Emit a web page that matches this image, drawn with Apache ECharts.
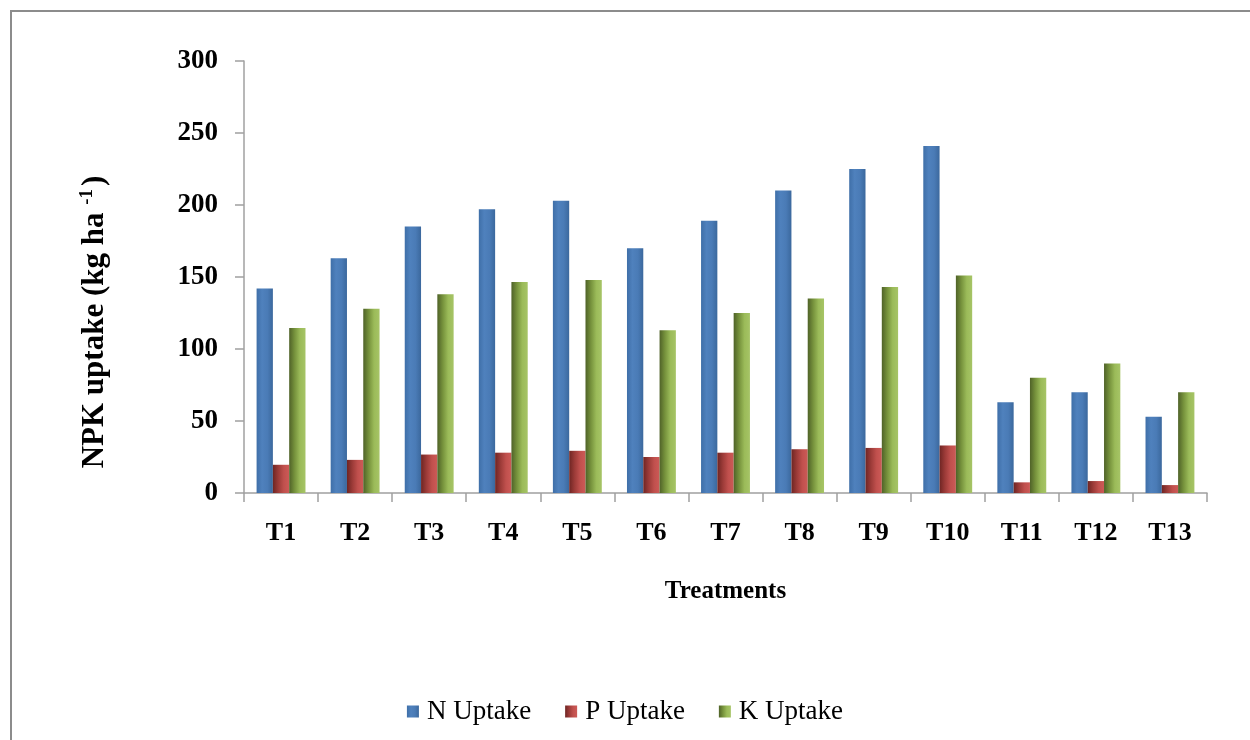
<!DOCTYPE html>
<html>
<head>
<meta charset="utf-8">
<title>NPK uptake</title>
<script src="https://cdn.jsdelivr.net/npm/echarts@6/dist/echarts.min.js"></script>
<style>
    html, body { margin: 0; padding: 0; background: #fff; }
    #chart { width: 1250px; height: 740px; }
</style>
</head>
<body>
<div id="chart"></div>
<script>
// 数据
const treatments = ['T1', 'T2', 'T3', 'T4', 'T5', 'T6', 'T7', 'T8', 'T9', 'T10', 'T11', 'T12', 'T13'];
const nUptake = [142, 163, 185, 197, 203, 170, 189, 210, 225, 241, 63, 70, 53];
const pUptake = [19.6, 23, 26.7, 28, 29.3, 25, 28, 30.4, 31.3, 33, 7.4, 8.3, 5.5];
const kUptake = [114.5, 128, 138, 146.5, 148, 113, 125, 135, 143, 151, 80, 90, 70];
const yTicks = [0, 50, 100, 150, 200, 250, 300];

const serif = '"Liberation Serif", "DejaVu Serif", serif';

// 横向渐变, 模拟原图的立体效果
function barGradient(stops) {
    return new echarts.graphic.LinearGradient(0, 0, 1, 0, stops.map((c, i) => ({
        offset: i / (stops.length - 1),
        color: c
    })));
}

const chart = echarts.init(document.getElementById('chart'));

const option = {
    backgroundColor: '#fff',
    animation: false,
    grid: {
        left: 244,
        right: 43,
        top: 61,
        bottom: 247
    },
    legend: {
        top: 693,
        left: 'center',
        icon: 'rect',
        itemWidth: 12,
        itemHeight: 12,
        itemGap: 34,
        textStyle: { fontFamily: serif, fontSize: 27, color: '#000', padding: [0, 0, 0, 3] },
        data: ['N Uptake', 'P Uptake', 'K Uptake']
    },
    xAxis: {
        type: 'category',
        data: treatments,
        axisLine: { lineStyle: { color: '#a0a0a0', width: 1.5 } },
        axisTick: { show: true, length: 9, alignWithLabel: false, lineStyle: { color: '#a0a0a0', width: 1.5 } },
        axisLabel: {
            margin: 27,
            fontFamily: serif,
            fontSize: 26,
            fontWeight: 'bold',
            color: '#000'
        },
        name: 'Treatments',
        nameLocation: 'middle',
        nameGap: 86,
        nameTextStyle: { fontFamily: serif, fontSize: 25, fontWeight: 'bold', color: '#000' }
    },
    yAxis: {
        type: 'value',
        min: yTicks[0],
        max: yTicks[yTicks.length - 1],
        interval: 50,
        splitLine: { show: false },
        axisLine: { show: true, lineStyle: { color: '#a0a0a0', width: 1.5 } },
        axisTick: { show: true, length: 9, lineStyle: { color: '#a0a0a0', width: 1.5 } },
        axisLabel: {
            margin: 26,
            fontFamily: serif,
            fontSize: 27,
            fontWeight: 'bold',
            color: '#000'
        }
    },
    graphic: [
        {
            type: 'rect',
            shape: { x: 11, y: 11, width: 1400, height: 900 },
            style: { fill: 'none', stroke: '#8c8c8c', lineWidth: 2 },
            silent: true
        },
        {
            type: 'text',
            x: 95,
            y: 322,
            rotation: Math.PI / 2,
            style: {
                text: '{t|NPK uptake (kg ha }{s|-1}{t|)}',
                textAlign: 'center',
                textVerticalAlign: 'middle',
                rich: {
                    t: { fontFamily: serif, fontSize: 31, fontWeight: 'bold', fill: '#000' },
                    s: { fontFamily: serif, fontSize: 19, fontWeight: 'bold', fill: '#000', verticalAlign: 'top', padding: [0, 3, 16, 0] }
                }
            }
        }
    ],
    series: [
        {
            name: 'N Uptake',
            type: 'bar',
            data: nUptake,
            barGap: '0%',
            barCategoryGap: '34%',
            itemStyle: { color: barGradient(['#3f6fa8', '#4f81bd', '#4a7bb6', '#3b689d']) }
        },
        {
            name: 'P Uptake',
            type: 'bar',
            data: pUptake,
            itemStyle: { color: barGradient(['#6e2523', '#9c3b38', '#c0504d', '#cd5a57']) }
        },
        {
            name: 'K Uptake',
            type: 'bar',
            data: kUptake,
            itemStyle: { color: barGradient(['#4f6228', '#76923c', '#9bbb59', '#a6c466']) }
        }
    ]
};

chart.setOption(option);
</script>
</body>
</html>
